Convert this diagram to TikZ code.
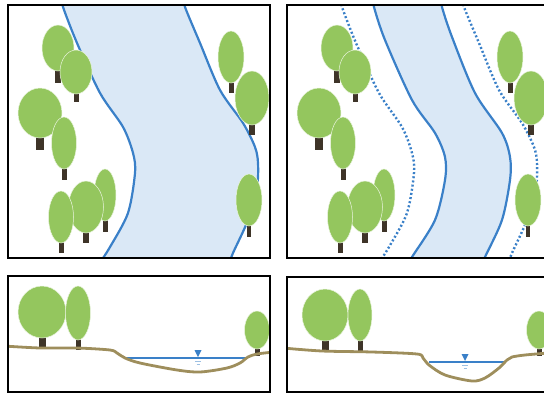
\documentclass[tikz,border=0pt]{standalone}
\usepackage{tikz}
\usetikzlibrary{calc}
\definecolor{leafgreen}{RGB}{148,198,94}
\definecolor{trunkbrown}{RGB}{62,52,40}
\definecolor{riverblue}{RGB}{58,128,200}
\definecolor{waterfill}{RGB}{218,232,246}
\definecolor{groundtan}{RGB}{158,142,92}

% tree: x, canopy y, x radius, y radius, trunk foot, trunk width
\newcommand{\tree}[6]{%
  \fill[trunk] ({#1-#6/2},{#2+#4-5}) rectangle ({#1+#6/2},#5);
  \path[leaf] (#1,#2) ellipse [x radius=#3pt, y radius=#4pt];
}
% banks of the wide channel (also the old banks)
\newcommand{\oldleft}{plot[smooth] coordinates {(61,-4) (63,7) (77,43) (100,93) (123,127) (133,153) (135,173) (128,213) (110,247) (99,264)}}
\newcommand{\oldright}{plot[smooth] coordinates {(183,-4) (185,7) (200,43) (220,90) (243,123) (255,147) (258,163) (257,187) (248,220) (233,253) (229,264)}}
% banks of the narrowed channel
\newcommand{\newleft}{plot[smooth] coordinates {(94,-4) (95,7) (106,40) (133,100) (156,133) (166,157) (166,180) (156,220) (133,257) (129,264)}}
\newcommand{\newright}{plot[smooth] coordinates {(162,-4) (163,7) (173,37) (196,93) (223,133) (231,157) (231,180) (223,220) (206,257) (203,264)}}
% water between two banks
\newcommand{\channel}[2]{%
  \begin{scope}
    \clip #1 -- (320,264) -- (320,-4) -- cycle;
    \fill[waterfill] #2 -- (-40,264) -- (-40,-4) -- cycle;
  \end{scope}
  \draw[bank] #1;
  \draw[bank] #2;
}
% trees along both banks, plan view
\newcommand{\planwood}{%
  \tree{58}{48}{16}{23}{83}{6}
  \tree{76}{72}{16}{22}{102}{5}
  \tree{40}{113}{22}{25}{150}{8}
  \tree{64}{143}{12.5}{26}{180}{5}
  \tree{105}{195}{11}{26}{232}{5}
  \tree{86}{207}{17.5}{26}{243}{6.5}
  \tree{61}{217}{12.5}{26}{253}{5}
  \tree{231}{57}{13}{26}{93}{5}
  \tree{252}{98}{17}{27}{135}{6.5}
  \tree{249}{200}{13}{26}{237}{4.5}
}

\begin{document}
\begin{tikzpicture}[
  x=1pt, y=-1pt,
  panel/.style={draw=black, line width=2.2pt},
  bank/.style={draw=riverblue, line width=2.2pt},
  oldbank/.style={draw=riverblue, line width=2.4pt, dash pattern=on 2pt off 2.2pt},
  leaf/.style={fill=leafgreen, draw=white!80!leafgreen, line width=0.5pt},
  trunk/.style={fill=trunkbrown},
  ground/.style={draw=groundtan, line width=2.8pt, line cap=round},
  level/.style={draw=riverblue, line width=1.1pt}
]
  \useasboundingbox (0,0) rectangle (544,394);

  % Plan view, before
  \begin{scope}
    \clip (8,5) rectangle (270,258);
    \channel{\oldleft}{\oldright}
    \planwood
  \end{scope}
  \draw[panel] (8,5) rectangle (270,258);

  % Plan view, after
  \begin{scope}[shift={(279,0)}]
    \clip (8,5) rectangle (275,258);
    \channel{\newleft}{\newright}
    \draw[oldbank] \oldleft;
    \draw[oldbank] \oldright;
    \planwood
  \end{scope}
  \draw[panel] (287,5) rectangle (554,258);

  % Section, before
  \begin{scope}
    \clip (8,276) rectangle (270,392);
    \tree{42}{312}{24}{26}{348}{7}
    \tree{78}{313}{12.5}{27}{350}{5}
    \tree{257}{330}{12.5}{19}{356}{5}
    \draw[level] (125,358) -- (245,358);
    \fill[riverblue] (194.5,350) -- (201.5,350) -- (198,357) -- cycle;
    \draw[riverblue!50, line width=0.9pt] (195,361) -- (201,361);
    \draw[riverblue!50, line width=0.9pt] (196.5,364) -- (199.5,364);
    \draw[ground] plot[smooth] coordinates {(4,346) (40,348) (77,348) (110,350) (117,353) (125,358) (140,363) (177,370) (200,372) (227,368) (240,363) (248,357) (257,354) (274,352)};
  \end{scope}
  \draw[panel] (8,276) rectangle (270,392);

  % Section, after
  \begin{scope}
    \clip (287,277) rectangle (554,392);
    \tree{325}{315}{23}{26}{352}{7}
    \tree{360}{315}{12}{26}{351}{5}
    \tree{539}{330}{12.5}{19}{356}{5}
    \draw[level] (429,362) -- (505,362);
    \fill[riverblue] (461.5,354) -- (468.5,354) -- (465,361) -- cycle;
    \draw[riverblue!50, line width=0.9pt] (462,365) -- (468,365);
    \draw[riverblue!50, line width=0.9pt] (463.5,368) -- (466.5,368);
    \draw[ground] plot[smooth] coordinates {(283,348) (322,351) (372,352) (417,354) (423,358) (429,365) (445,375) (472,381) (485,378) (499,368) (507,360) (512,357) (525,355) (548,353)};
  \end{scope}
  \draw[panel] (287,277) rectangle (554,392);
\end{tikzpicture}
\end{document}
